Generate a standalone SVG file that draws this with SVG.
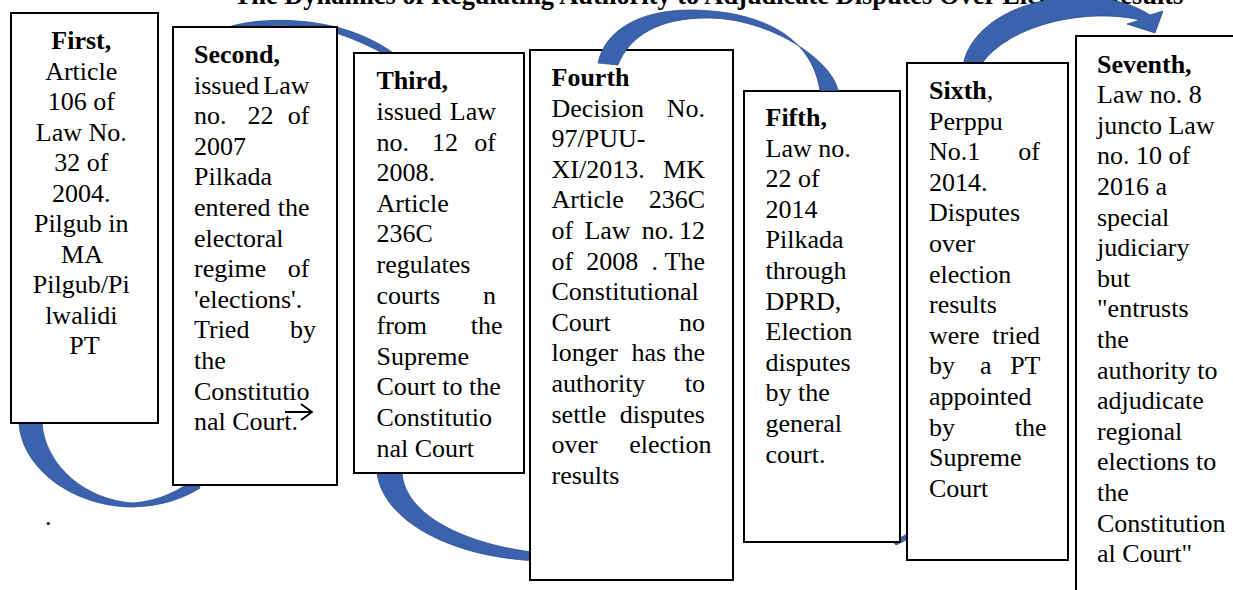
<svg xmlns="http://www.w3.org/2000/svg" width="1233" height="590" viewBox="0 0 1233 590">
<style>
.t{font-family:"Liberation Serif","Times New Roman",serif;font-size:26px;fill:#000}
.b{font-weight:bold}
.e{text-anchor:end}
.m{text-anchor:middle}
.box{fill:#fff;stroke:#000;stroke-width:2}
.arr{fill:#3b62ad;stroke:#2e5090;stroke-width:0.8}
.k{fill:#000}
</style>
<defs>
<mask id="behind" maskUnits="userSpaceOnUse" x="0" y="0" width="1233" height="590">
<rect x="0" y="0" width="1233" height="590" fill="#fff"/>
<g class="k">
<rect x="10" y="12" width="149" height="412"/>
<rect x="172" y="26" width="166" height="460"/>
<rect x="353" y="52" width="172" height="422"/>
<rect x="529" y="49" width="205" height="532"/>
<rect x="743" y="90" width="158" height="453"/>
<rect x="906" y="62" width="163" height="499"/>
<rect x="1075" y="35" width="170" height="570"/>
</g>
</mask>
</defs>
<rect x="0" y="0" width="1233" height="590" fill="#fff"/>
<text class="t b m" x="708.5" y="4" style="font-size:26.4px">The Dynamics of Regulating Authority to Adjudicate Disputes Over Election Results</text>
<text class="t" x="45" y="525">.</text>

<g id="node-first">
<rect class="box" x="11" y="13" width="147" height="410"/>
<text class="t m">
<tspan class="b" x="84.5" y="49">First,</tspan>
<tspan x="84.5" y="79.5">Article</tspan>
<tspan x="84.5" y="110">106 of</tspan>
<tspan x="84.5" y="140.5">Law No.</tspan>
<tspan x="84.5" y="171">32 of</tspan>
<tspan x="84.5" y="201.5">2004.</tspan>
<tspan x="84.5" y="232">Pilgub in</tspan>
<tspan x="84.5" y="262.5">MA</tspan>
<tspan x="84.5" y="293">Pilgub/Pi</tspan>
<tspan x="84.5" y="323.5">lwalidi</tspan>
<tspan x="84.5" y="354">PT</tspan>
</text>
</g>

<g id="node-second">
<rect class="box" x="173" y="27" width="164" height="458"/>
<text class="t">
<tspan class="b" x="194" y="63">Second,</tspan>
<tspan x="194" y="93.6">issued</tspan>
<tspan x="194" y="124.2">no.</tspan><tspan x="247.4" y="124.2">22</tspan>
<tspan x="194" y="154.8">2007</tspan>
<tspan x="194" y="185.4">Pilkada</tspan>
<tspan x="194" y="216">entered</tspan>
<tspan x="194" y="246.6">electoral</tspan>
<tspan x="194" y="277.2">regime</tspan>
<tspan x="194" y="307.8">'elections'.</tspan>
<tspan x="194" y="338.4">Tried</tspan>
<tspan x="194" y="369">the</tspan>
<tspan x="194" y="399.6">Constitutio</tspan>
<tspan x="194" y="430.2">nal Court.</tspan>
</text>
<text class="t e">
<tspan x="316" y="93.6">Law</tspan>
<tspan x="316" y="124.2">of</tspan>
<tspan x="316" y="216">the</tspan>
<tspan x="316" y="277.2">of</tspan>
<tspan x="316" y="338.4">by</tspan>
</text>
</g>

<g id="node-third">
<rect class="box" x="354" y="53" width="170" height="420"/>
<text class="t">
<tspan class="b" x="376.5" y="89.3">Third,</tspan>
<tspan x="376.5" y="119.9">issued</tspan>
<tspan x="376.5" y="150.5">no.</tspan><tspan x="431.9" y="150.5">12</tspan>
<tspan x="376.5" y="181.1">2008.</tspan>
<tspan x="376.5" y="211.7">Article</tspan>
<tspan x="376.5" y="242.3">236C</tspan>
<tspan x="376.5" y="272.9">regulates</tspan>
<tspan x="376.5" y="303.5">courts</tspan>
<tspan x="376.5" y="334.1">from</tspan>
<tspan x="376.5" y="364.7">Supreme</tspan>
<tspan x="376.5" y="395.3">Court to the</tspan>
<tspan x="376.5" y="425.9">Constitutio</tspan>
<tspan x="376.5" y="456.5">nal Court</tspan>
</text>
<text class="t e">
<tspan x="502.5" y="119.9">Law</tspan>
<tspan x="502.5" y="150.5">of</tspan>
<tspan x="502.5" y="303.5">n</tspan>
<tspan x="502.5" y="334.1">the</tspan>
</text>
</g>

<g id="node-fourth">
<rect class="box" x="530" y="50" width="203" height="530"/>
<text class="t">
<tspan class="b" x="551.5" y="86">Fourth</tspan>
<tspan x="551.5" y="116.6">Decision</tspan>
<tspan x="551.5" y="147.2">97/PUU-</tspan>
<tspan x="551.5" y="177.8">XI/2013.</tspan>
<tspan x="551.5" y="208.4">Article</tspan>
<tspan x="551.5" y="239">of</tspan><tspan x="584.4" y="239">Law</tspan><tspan x="641.8" y="239">no.</tspan>
<tspan x="551.5" y="269.6">of</tspan><tspan x="586.3" y="269.6">2008</tspan><tspan x="651.4" y="269.6">.</tspan>
<tspan x="551.5" y="300.2">Constitutional</tspan>
<tspan x="551.5" y="330.8">Court</tspan>
<tspan x="551.5" y="361.4">longer</tspan><tspan x="631.5" y="361.4">has</tspan>
<tspan x="551.5" y="392">authority</tspan>
<tspan x="551.5" y="422.6">settle</tspan>
<tspan x="551.5" y="453.2">over</tspan>
<tspan x="551.5" y="483.8">results</tspan>
</text>
<text class="t e">
<tspan x="711.5" y="116.6">No.</tspan>
<tspan x="711.5" y="177.8">MK</tspan>
<tspan x="711.5" y="208.4">236C</tspan>
<tspan x="711.5" y="239">12</tspan>
<tspan x="711.5" y="269.6">The</tspan>
<tspan x="711.5" y="330.8">no</tspan>
<tspan x="711.5" y="361.4">the</tspan>
<tspan x="711.5" y="392">to</tspan>
<tspan x="711.5" y="422.6">disputes</tspan>
<tspan x="711.5" y="453.2">election</tspan>
</text>
</g>

<g id="node-fifth">
<rect class="box" x="744" y="91" width="156" height="451"/>
<text class="t">
<tspan class="b" x="765.5" y="126">Fifth,</tspan>
<tspan x="765.5" y="156.6">Law no.</tspan>
<tspan x="765.5" y="187.2">22 of</tspan>
<tspan x="765.5" y="217.8">2014</tspan>
<tspan x="765.5" y="248.4">Pilkada</tspan>
<tspan x="765.5" y="279">through</tspan>
<tspan x="765.5" y="309.6">DPRD,</tspan>
<tspan x="765.5" y="340.2">Election</tspan>
<tspan x="765.5" y="370.8">disputes</tspan>
<tspan x="765.5" y="401.4">by the</tspan>
<tspan x="765.5" y="432">general</tspan>
<tspan x="765.5" y="462.6">court.</tspan>
</text>
</g>

<g id="node-sixth">
<rect class="box" x="907" y="63" width="161" height="497"/>
<text class="t">
<tspan x="929" y="99"><tspan class="b">Sixth</tspan>,</tspan>
<tspan x="929" y="129.6">Perppu</tspan>
<tspan x="929" y="160.2">No.1</tspan>
<tspan x="929" y="190.8">2014.</tspan>
<tspan x="929" y="221.4">Disputes</tspan>
<tspan x="929" y="252">over</tspan>
<tspan x="929" y="282.6">election</tspan>
<tspan x="929" y="313.2">results</tspan>
<tspan x="929" y="343.8">were</tspan>
<tspan x="929" y="374.4">by</tspan><tspan x="979.9" y="374.4">a</tspan>
<tspan x="929" y="405">appointed</tspan>
<tspan x="929" y="435.6">by</tspan>
<tspan x="929" y="466.2">Supreme</tspan>
<tspan x="929" y="496.8">Court</tspan>
</text>
<text class="t e">
<tspan x="1046.5" y="160.2">of</tspan>
<tspan x="1046.5" y="343.8">tried</tspan>
<tspan x="1046.5" y="374.4">PT</tspan>
<tspan x="1046.5" y="435.6">the</tspan>
</text>
</g>

<g id="node-seventh">
<rect class="box" x="1076" y="36" width="170" height="570"/>
<text class="t">
<tspan class="b" x="1097" y="72.5">Seventh,</tspan>
<tspan x="1097" y="103.1">Law no. 8</tspan>
<tspan x="1097" y="133.7">juncto Law</tspan>
<tspan x="1097" y="164.3">no. 10 of</tspan>
<tspan x="1097" y="194.9">2016 a</tspan>
<tspan x="1097" y="225.5">special</tspan>
<tspan x="1097" y="256.1">judiciary</tspan>
<tspan x="1097" y="286.7">but</tspan>
<tspan x="1097" y="317.3">"entrusts</tspan>
<tspan x="1097" y="347.9">the</tspan>
<tspan x="1097" y="378.5">authority to</tspan>
<tspan x="1097" y="409.1">adjudicate</tspan>
<tspan x="1097" y="439.7">regional</tspan>
<tspan x="1097" y="470.3">elections to</tspan>
<tspan x="1097" y="500.9">the</tspan>
<tspan x="1097" y="531.5">Constitution</tspan>
<tspan x="1097" y="562.1">al Court"</tspan>
</text>
</g>

<g id="connectors">
<g mask="url(#behind)">
<path id="c1" class="arr" d="M18,405 L19,423 C22,470 75,507 133,507 C162,506 182,499 200,488 L196,478 C180,490 160,501 133,503 C85,500 45,465 42,423 L42,405 Z"/>
<path id="c2" class="arr" d="M215,32 C240,20 290,15 340,28 C365,35 385,46 400,58 L396,61 C380,51 360,41 336,33 C290,21 245,25 218,37 Z"/>
<path id="c3" class="arr" d="M377,462 L377,473 C383,520 450,558 540,561 L540,553 C465,545 405,515 402,473 L402,462 Z"/>
<path id="c5" class="arr" d="M893,542 L914,530 L914,536 L896,545 Z"/>
<path id="c6" class="arr" d="M963,66 C968,32 1010,-2 1080,-3 C1110,-3 1135,5 1150,15 L1163,11 L1155,33 L1127,24 L1140,20 C1090,8 1010,22 980,66 Z"/>
</g>
<path id="c4" class="arr" d="M598,63 C605,30 640,10 690,10 C740,10 810,25 820,90.5 L838,90.5 C832,60 770,18 707,18 C660,18 630,35 618,65 Z"/>
<path id="stray-arrow" d="M285,412 H312 M301,404 L312,412 L301,420" fill="none" stroke="#000" stroke-width="1.8"/>
</g>
</svg>
